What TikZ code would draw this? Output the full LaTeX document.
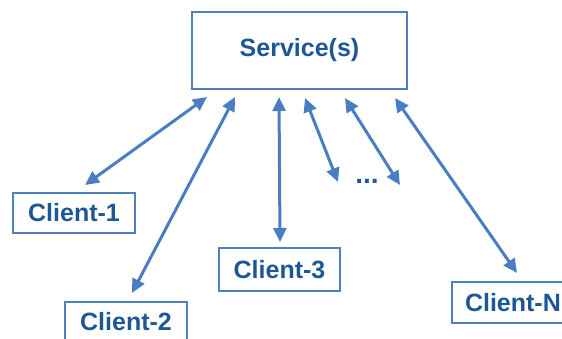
\documentclass[tikz,border=0pt]{standalone}
\usepackage{fontspec}
\setmainfont{Liberation Sans}
\usetikzlibrary{arrows.meta}
\definecolor{boxblue}{HTML}{4F81BD}
\definecolor{txtblue}{HTML}{1D5796}
\definecolor{arrblue}{HTML}{4A7EC2}
\tikzset{
  box/.style={draw=boxblue, line width=2.4pt, fill=white, text=txtblue,
    font=\fontsize{25}{28}\selectfont\bfseries, inner sep=0pt, anchor=center},
  link/.style={draw=arrblue, line width=3pt,
    {Triangle[length=14pt,width=13pt]}-{Triangle[length=14pt,width=13pt]}}
}
\begin{document}
\begin{tikzpicture}[x=1pt,y=-1pt]
\useasboundingbox (0,0) rectangle (562,338);
\clip (0,0) rectangle (562,338);
\fill[white] (0,0) rectangle (562,338);
\node[box, minimum width=215pt, minimum height=77pt] (svc) at (299.5,50.5) {Service(s)};
\node[box, minimum width=122pt, minimum height=40pt] (c1) at (74,213) {Client-1};
\node[box, minimum width=122pt, minimum height=40pt] (c2) at (126,322) {Client-2};
\node[box, minimum width=121pt, minimum height=43pt] (c3) at (279.5,269.5) {Client-3};
\node[box, minimum width=122pt, minimum height=41pt, text width=96pt, align=left] (cn) at (513,302.5) {Client-N};
\node[text=txtblue, font=\fontsize{28}{30}\selectfont\bfseries] (dots) at (367,181) {...};
\coordinate (a1) at (207,97);  \coordinate (b1) at (85,185);
\coordinate (a2) at (235,97);  \coordinate (b2) at (132,293);
\coordinate (a3) at (279,97);  \coordinate (b3) at (280,242);
\coordinate (a4) at (305,98);  \coordinate (b4) at (338,182);
\coordinate (a5) at (345,98);  \coordinate (b5) at (400,185);
\coordinate (a6) at (395,98);  \coordinate (b6) at (517,273);
\draw[link] (a1) -- (b1);
\draw[link] (a2) -- (b2);
\draw[link] (a3) -- (b3);
\draw[link] (a4) -- (b4);
\draw[link] (a5) -- (b5);
\draw[link] (a6) -- (b6);
\end{tikzpicture}
\end{document}
